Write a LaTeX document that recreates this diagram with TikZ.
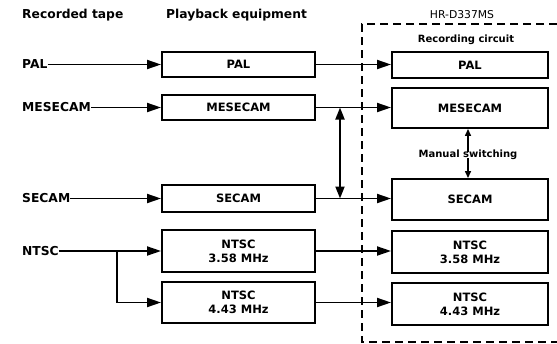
\documentclass[tikz,border=0pt]{standalone}
\usepackage{fontspec}
\setmainfont{DejaVu Sans}
\usetikzlibrary{arrows.meta}
\begin{document}
\begin{tikzpicture}[x=1pt,y=-1pt,
  box/.style={draw,line width=1.9pt,minimum width=153pt,inner sep=0pt,align=center,
    font=\bfseries\fontsize{11.5}{14}\selectfont},
  rbox/.style={box,minimum width=156pt},
  lab/.style={font=\bfseries\fontsize{12.3}{14}\selectfont,inner sep=0pt},
  slab/.style={font=\bfseries\fontsize{10}{12}\selectfont,inner sep=0pt},
  conn/.style={line width=1.8pt,-{Triangle[length=14pt,width=9pt]}},
  dbl/.style={line width=1.8pt,{Triangle[length=12pt,width=9pt]}-{Triangle[length=12pt,width=9pt]}},
  sarr/.style={line width=1.4pt,-{Triangle[length=7pt,width=6pt]}},
  frame/.style={line width=1.5pt,dash pattern=on 8pt off 5pt},
]
\useasboundingbox (0,0) rectangle (557,343);

% headers
\node[lab,anchor=west] (hRec) at (22,15) {Recorded tape};
\node[lab,anchor=west] (hPlay) at (166,15) {Playback equipment};
\node[slab,font=\fontsize{10.8}{12}\selectfont] (hHR) at (462,15) {HR-D337MS};
\node[slab] (hRC) at (466,40) {Recording circuit};

% dashed frame
\draw[frame] (557,24) -- (362,24) -- (362,342) -- (557,342);

% playback boxes
\node[box,minimum height=25pt] (pPAL) at (238.5,64.5) {PAL};
\node[box,minimum height=25pt] (pMES) at (238.5,107.5) {MESECAM};
\node[box,minimum height=27pt] (pSEC) at (238.5,198.5) {SECAM};
\node[box,minimum height=42pt] (pN1) at (238.5,251) {NTSC\\3.58 MHz};
\node[box,minimum height=41pt] (pN2) at (238.5,302.5) {NTSC\\4.43 MHz};

% recording boxes
\node[rbox,minimum height=26pt] (rPAL) at (470,65) {PAL};
\node[rbox,minimum height=40pt] (rMES) at (470,108) {MESECAM};
\node[rbox,minimum height=41pt] (rSEC) at (470,199.5) {SECAM};
\node[rbox,minimum height=42pt] (rN1) at (470,252) {NTSC\\3.58 MHz};
\node[rbox,minimum height=42pt] (rN2) at (470,304) {NTSC\\4.43 MHz};

% inputs
\node[lab,anchor=west] (iPAL) at (22,64.5) {PAL};
\node[lab,anchor=west] (iMES) at (22,107.5) {MESECAM};
\node[lab,anchor=west] (iSEC) at (22,198.5) {SECAM};
\node[lab,anchor=west] (iNT) at (22,251) {NTSC};

\draw[conn] (iPAL.east) -- (iPAL.east -| pPAL.west);
\draw[conn] (iMES.east) -- (iMES.east -| pMES.west);
\draw[conn] (iSEC.east) -- (iSEC.east -| pSEC.west);
\draw[conn] (iNT.east) -- (iNT.east -| pN1.west);
\coordinate (br) at (117,251);
\draw[conn] (br) |- (pN2.west);

% playback -> recording
\draw[conn] (pPAL.east) -- (pPAL.east -| rPAL.west);
\draw[conn] (pMES.east) -- (pMES.east -| rMES.west);
\draw[conn] (pSEC.east) -- (pSEC.east -| rSEC.west);
\draw[conn] (pN1.east) -- (pN1.east -| rN1.west);
\draw[conn] (pN2.east) -- (pN2.east -| rN2.west);

% switch arrow between lines
\coordinate (sw1) at (340,107.5);
\coordinate (sw2) at (340,198.5);
\draw[dbl] (sw1) -- (sw2);

% manual switching
\node[slab] (ms) at (468,155) {Manual switching};
\draw[sarr] ([yshift=-2pt]ms.north) -- (ms.north |- rMES.south);
\draw[sarr] ([yshift=2pt]ms.south) -- (ms.south |- rSEC.north);
\end{tikzpicture}
\end{document}
